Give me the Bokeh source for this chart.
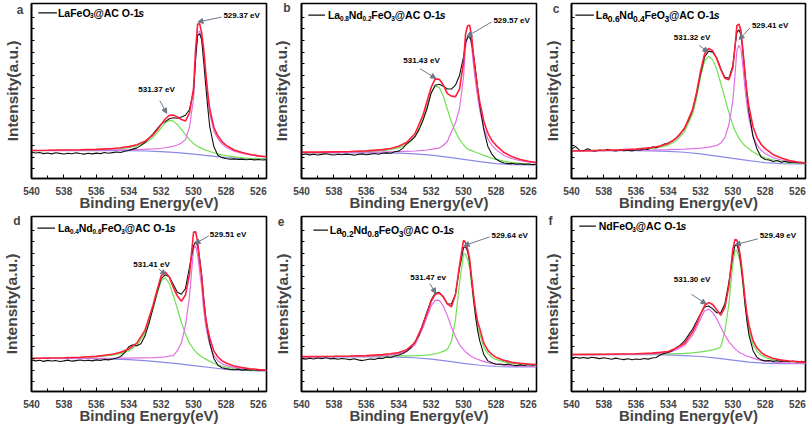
from bokeh.plotting import figure
from bokeh.models import Range1d, Label, Arrow, NormalHead, FixedTicker, SingleIntervalTicker
from bokeh.layouts import gridplot
from bokeh.embed import file_html
from bokeh.resources import INLINE

# ---------------- data (binding energy grids, eV) ----------------
X = [540, 539, 538, 537, 536, 535, 534.5, 534, 533.5, 533, 532.5, 532.25, 532, 531.75, 531.5,
     531.25, 531, 530.75, 530.5, 530.25, 530, 529.875, 529.75, 529.625, 529.5, 529.375, 529.25,
     529.125, 529, 528.75, 528.5, 528.25, 528, 527.5, 527, 526.5, 526, 525.5]
XR = [540, 539.75, 539.5, 539.25, 539, 538.75, 538.5, 538.25, 538, 537.75, 537.5, 537.25, 537,
      536.75, 536.5, 536.25, 536, 535.75, 535.5, 535.25, 535, 534.75, 534.5, 534.25, 534, 533.75,
      533.5, 533.25, 533, 532.75, 532.5, 532.25, 532, 531.75, 531.5, 531.25, 531, 530.75, 530.5,
      530.25, 530, 529.875, 529.75, 529.625, 529.5, 529.375, 529.25, 529.125, 529, 528.75, 528.5,
      528.25, 528, 527.75, 527.5, 527.25, 527, 526.75, 526.5, 526.25, 526, 525.75, 525.5]
XB = [540, 536, 535, 534, 533, 532, 531, 530, 529, 528, 527, 526, 525.5]

# ---- panel a: LaFeO3@AC
A_BASE = [28.7, 28.7, 28.7, 28.6, 28.3, 27.7, 26.7, 25.0, 23.3, 21.5, 20.5, 20.3, 20.3]
A_GREEN = [28.7, 28.8, 29.0, 29.2, 29.5, 30.2, 30.8, 31.8, 33.5, 36.5, 42.5, 47.0, 52.0, 57.0, 59.8,
           59.0, 55.5, 50.5, 45.0, 40.0, 36.0, 34.5, 33.0, 32.0, 31.0, 30.0, 29.2, 28.5, 27.8, 26.5,
           25.3, 24.3, 23.5, 22.2, 21.3, 20.8, 20.5, 20.3]
A_PINK = [28.8, 28.9, 29.0, 29.1, 29.2, 29.4, 29.5, 29.6, 29.8, 30.0, 30.4, 30.7, 31.1, 31.6, 32.3,
          33.2, 34.5, 36.5, 40.0, 53.0, 82.0, 123.0, 150.5, 151.5, 143.0, 127.0, 104.0, 83.0, 67.0,
          49.0, 41.0, 35.7, 32.3, 28.1, 25.9, 24.3, 23.1, 22.3]
A_RED = [28.8, 29.0, 29.3, 29.6, 30.0, 30.9, 31.6, 32.8, 34.8, 38.2, 44.9, 49.9, 55.4, 61.2, 64.9,
         65.2, 63.3, 60.7, 59.1, 67.6, 93.0, 132.7, 158.9, 159.1, 149.8, 133.1, 109.5, 88.0, 71.5,
         52.7, 43.9, 38.0, 34.3, 29.3, 26.7, 24.7, 23.3, 22.3]
A_RAW = [27, 26.3, 26.8, 25.6, 26.2, 25.3, 26.5, 25.8, 25.2, 26, 25.5, 26.4, 25.7, 25.1, 25.9, 25.3,
         26.1, 25.6, 26.8, 25.9, 26.6, 27.2, 26.7, 28, 28.8, 30.2, 31.5, 33.8, 37, 41.5, 46, 51, 56,
         58.5, 61.5, 62.5, 62, 63.2, 65, 71, 90, 123, 147, 149, 143, 120, 96, 73, 53, 33, 24, 21.5,
         20.5, 19.8, 20.2, 19.5, 19.9, 19.3, 19.8, 19.2, 19.6, 19.1, 19.4]

# ---- panel b: La0.8Nd0.2FeO3@AC
B_BASE = [26.3, 26.3, 26.3, 26.0, 25.3, 24.0, 22.0, 19.7, 17.3, 15.3, 14.3, 14.0, 14.0]
B_GREEN = [26.7, 26.7, 26.9, 27.2, 27.7, 28.7, 29.6, 31.5, 35.0, 43.0, 61.0, 74.7, 87.7, 95.3, 93.7,
           84.7, 71.3, 58.0, 48.0, 40.3, 34.7, 32.3, 30.3, 29.5, 28.7, 27.8, 27.0, 26.2, 25.5, 23.8,
           22.2, 20.8, 19.7, 17.8, 16.4, 15.5, 14.8, 14.4]
B_PINK = [26.7, 26.7, 26.8, 26.8, 27.0, 27.3, 27.5, 27.7, 28.0, 28.3, 29.0, 29.3, 30.0, 30.7, 31.3,
          34.0, 38.0, 48.0, 57.0, 72.0, 104.7, 136.0, 146.0, 147.0, 136.0, 114.7, 98.0, 83.0, 70.3,
          52.0, 40.7, 34.0, 29.7, 23.7, 20.3, 18.3, 17.0, 16.0]
B_RED = [27.1, 27.1, 27.4, 27.7, 28.4, 29.7, 30.9, 33.2, 37.3, 46.0, 65.3, 79.7, 93.7, 102.5, 102.0,
         96.2, 87.3, 84.7, 84.2, 92.0, 119.7, 149.0, 157.1, 157.7, 146.2, 124.2, 107.0, 91.5, 78.5,
         59.0, 46.6, 39.0, 34.1, 26.7, 22.4, 19.6, 17.8, 16.4]
B_RAW = [24.5, 25.2, 24.3, 24.9, 24.1, 24.8, 25.4, 24.6, 24.2, 25, 24.4, 25.1, 24.7, 24, 24.8, 25.3,
         24.5, 25.1, 25.7, 25, 25.9, 26.4, 26, 27.5, 28.2, 31, 36, 39, 43, 50, 60, 72, 88, 96, 97, 95,
         92, 92, 96, 106, 125, 140, 145, 146, 140, 126, 110, 92, 76, 50, 33, 25, 20, 17.5, 16, 15.3,
         15.6, 14.8, 15.2, 14.5, 14.9, 14.3, 14.6]

# ---- panel c: La0.6Nd0.4FeO3@AC
C_BASE = [28.7, 28.7, 28.5, 28.0, 27.0, 25.3, 23.0, 20.7, 18.3, 16.3, 15.3, 15.0, 15.0]
C_GREEN = [28.7, 28.7, 29.0, 29.3, 30.0, 31.0, 32.3, 34.3, 39.0, 48.0, 66.3, 83.0, 104.7, 121.3,
           125.7, 122.0, 112.3, 98.0, 83.0, 68.0, 54.7, 49.7, 45.3, 41.7, 38.7, 36.0, 33.7, 32.0,
           30.3, 27.3, 25.0, 23.0, 21.3, 19.0, 17.3, 16.3, 15.7, 15.3]
C_PINK = [28.3, 28.5, 28.7, 28.8, 29.0, 29.3, 29.5, 29.7, 30.0, 30.3, 30.7, 31.0, 31.3, 31.7, 32.3,
          33.0, 34.0, 36.5, 42.0, 55.0, 80.0, 105.0, 132.0, 137.0, 133.0, 114.7, 93.0, 74.7, 61.3,
          43.7, 34.3, 29.0, 25.7, 21.3, 19.0, 17.3, 16.3, 15.7]
C_RED = [28.3, 28.5, 29.0, 29.4, 30.3, 31.8, 33.5, 36.0, 41.5, 51.3, 70.8, 88.3, 110.7, 128.3, 133.8,
         131.4, 123.3, 112.1, 103.1, 101.7, 114.0, 134.3, 157.2, 158.9, 152.2, 131.5, 107.8, 88.1,
         73.3, 53.2, 42.0, 35.2, 30.7, 24.5, 21.0, 18.4, 17.0, 16.0]
C_RAW = [30, 33, 29, 28.5, 30.5, 28.7, 28.2, 29.3, 28.5, 30, 28.8, 28.4, 29.4, 28.6, 29.2, 28.3, 29.5,
         29, 30.5, 30, 32.5, 31.5, 33.5, 35.5, 36.5, 38.5, 42, 46, 52, 60, 70, 87, 108, 125, 131, 130,
         124, 113, 104, 103, 116, 135, 150, 153, 148, 130, 108, 86, 68, 43, 30, 22, 19.5, 19, 17.5,
         18.5, 16.8, 17.7, 16.5, 17, 16.2, 16.6, 15.8]

# ---- panel d: La0.4Nd0.6FeO3@AC
D_BASE = [34.0, 33.7, 33.3, 32.7, 31.7, 30.3, 28.7, 26.7, 24.7, 22.7, 21.7, 21.3, 21.3]
D_GREEN = [34.05, 34.25, 34.5, 35.0, 35.8, 37.4, 39.0, 42.0, 47.5, 60.0, 85.0, 100.0, 114.0, 117.0,
           111.0, 99.0, 85.0, 71.0, 59.0, 50.0, 43.5, 41.0, 39.0, 37.3, 35.8, 34.5, 33.3, 32.2, 31.0,
           29.0, 27.5, 26.2, 25.2, 23.6, 22.6, 22.0, 21.6, 21.4]
D_PINK = [34.0, 34.0, 34.0, 34.0, 34.0, 34.2, 34.3, 34.4, 34.5, 34.6, 34.8, 35.0, 35.3, 35.7, 36.3,
          37.0, 42.0, 50.0, 68.0, 98.0, 147.0, 150.0, 141.0, 123.0, 108.0, 84.5, 67.5, 57.0, 48.5,
          37.0, 31.7, 28.7, 26.8, 24.9, 23.7, 22.9, 22.2, 21.8]
D_RED = [34.0, 34.4, 34.7, 35.2, 36.1, 38.3, 40.3, 43.7, 49.8, 62.9, 88.8, 104.3, 119.0, 122.8, 117.8,
         106.9, 98.3, 92.8, 99.3, 120.8, 163.8, 164.5, 153.8, 134.3, 118.1, 93.5, 75.6, 64.2, 54.8,
         41.8, 35.5, 31.7, 29.3, 26.3, 24.6, 23.4, 22.5, 21.9]
D_RAW = [32.5, 31.5, 32.2, 31, 32, 31.3, 31.8, 30.8, 31.5, 32.3, 31.2, 31.8, 32.4, 31.6, 32.2, 31.5,
         32.5, 32, 33, 32.5, 33.5, 34.5, 36, 40, 46, 48, 47, 49, 57, 70, 86, 102, 116, 120, 118, 110,
         102, 100, 106, 128, 150, 154, 150, 137, 120, 96, 76, 62, 50, 34, 27, 24.5, 23.5, 22.8, 22.3,
         23, 22, 22.5, 21.8, 22.4, 21.6, 22.1, 21.5]

# ---- panel e: La0.2Nd0.8FeO3@AC
E_BASE = [35.7, 35.7, 35.5, 35.3, 34.7, 33.3, 31.3, 29.0, 27.0, 25.7, 25.3, 25.3, 25.3]
E_GREEN = [35.9, 36.0, 36.1, 36.2, 36.3, 36.4, 36.5, 36.6, 36.7, 36.9, 37.2, 37.5, 38.0, 38.8, 39.8,
           41.3, 43.5, 51.4, 73.6, 111.3, 141.7, 141.1, 135.8, 127.3, 108.3, 90.8, 76.5, 65.6, 59.4,
           45.4, 39.0, 35.3, 33.0, 30.5, 29.0, 28.3, 27.9, 27.3]
E_PINK = [35.7, 35.7, 35.8, 36.0, 36.3, 37.0, 37.7, 38.7, 41.3, 48.0, 65.7, 77.0, 88.0, 94.0, 93.7,
          88.0, 78.0, 66.3, 56.3, 48.0, 43.0, 40.7, 39.0, 37.3, 36.0, 35.0, 34.0, 33.0, 32.3, 31.0,
          29.7, 28.7, 28.0, 27.0, 26.3, 26.0, 25.7, 25.7]
E_RED = [35.9, 36.0, 36.2, 36.5, 36.9, 37.9, 38.8, 40.0, 43.0, 50.2, 68.9, 80.8, 92.7, 100.0, 101.2,
         97.5, 90.2, 87.0, 99.7, 129.7, 155.7, 153.0, 146.3, 136.3, 116.3, 98.0, 83.0, 71.3, 64.7,
         49.7, 42.3, 38.0, 35.3, 32.0, 30.0, 29.0, 28.3, 27.7]
E_RAW = [34, 33.3, 34.2, 33.5, 34.4, 33.8, 34.8, 33.6, 34.1, 33.2, 34, 33.4, 32.8, 33.7, 32.5, 31.8,
         32.6, 33.4, 33, 34.3, 34, 35.6, 35, 36.5, 37.5, 39, 41.5, 45, 51, 58, 70, 82, 94, 101, 102, 97,
         90, 90, 100, 127, 148, 149, 144, 133, 114, 94, 76, 62, 52, 38, 31.5, 29.5, 28, 28.3, 27.5,
         28.2, 27.3, 26.6, 27.4, 26.8, 27.5, 27, 27.6]

# ---- panel f: NdFeO3@AC
F_BASE = [38.0, 38.0, 37.8, 37.7, 37.0, 36.0, 34.3, 32.3, 30.3, 29.0, 28.7, 28.7, 28.7]
F_GREEN = [38.1, 38.2, 38.3, 38.4, 38.5, 38.6, 38.7, 38.8, 39.0, 39.3, 39.8, 40.2, 40.7, 41.3, 42.0,
           42.8, 43.8, 46.0, 61.6, 89.5, 132.3, 144.4, 145.2, 138.9, 126.7, 109.1, 89.8, 74.0, 62.6,
           48.0, 41.4, 37.6, 35.0, 32.5, 31.3, 30.7, 30.4, 29.7]
F_PINK = [38.0, 38.0, 38.0, 38.2, 38.3, 38.7, 39.3, 40.0, 43.0, 47.0, 58.0, 65.7, 74.7, 83.0, 84.7,
          81.3, 74.7, 66.3, 58.0, 51.3, 46.3, 44.0, 42.3, 40.7, 39.3, 38.3, 37.3, 36.3, 35.7, 34.3,
          33.0, 32.0, 31.3, 30.3, 29.7, 29.3, 29.0, 29.0]
F_RED = [38.1, 38.2, 38.3, 38.6, 38.8, 39.5, 40.2, 41.1, 44.7, 49.3, 61.3, 69.6, 79.4, 88.7, 91.5,
         89.4, 84.2, 78.5, 86.3, 108.0, 146.3, 156.3, 155.7, 148.0, 134.7, 116.3, 96.3, 79.7, 68.0,
         52.3, 44.7, 40.3, 37.3, 34.0, 32.3, 31.3, 30.7, 30.0]
F_RAW = [34.5, 35.2, 34.3, 35, 34.1, 35.3, 34.6, 33.8, 34.7, 34, 33.2, 34.3, 33.5, 32.8, 33.7, 32.6,
         33.4, 32.9, 34, 33.3, 34.5, 35, 37.5, 39, 40.5, 42, 45, 48, 52, 58, 64, 72, 80, 87, 88, 85, 81,
         81, 90, 112, 140, 150, 151, 144, 131, 112, 90, 72, 58, 42, 35, 32.5, 31.5, 31.8, 31, 31.6,
         30.8, 31.4, 30.6, 31.2, 30.4, 31, 30.2]

# ---- texts
LETTERS = ["a", "b", "c", "d", "e", "f"]
LEGENDS = [
    [("LaFeO", "n"), ("3", "s"), ("@AC O-1", "n"), ("s", "i")],
    [("La", "n"), ("0.8", "s"), ("Nd", "n"), ("0.2", "s"), ("FeO", "n"), ("3", "s"), ("@AC O-1", "n"), ("s", "i")],
    [("La", "n"), ("0.6", "S"), ("Nd", "n"), ("0.4", "S"), ("FeO", "n"), ("3", "S"), ("@AC O-1", "n"), ("s", "i")],
    [("La", "n"), ("0.4", "s"), ("Nd", "n"), ("0.6", "s"), ("FeO", "n"), ("3", "s"), ("@AC O-1", "n"), ("s", "i")],
    [("La", "n"), ("0.2", "S"), ("Nd", "n"), ("0.8", "S"), ("FeO", "n"), ("3", "S"), ("@AC O-1", "n"), ("s", "i")],
    [("NdFeO", "n"), ("3", "s"), ("@AC O-1", "n"), ("s", "i")],
]
PEAK_MAIN = ["529.37 eV", "529.57 eV", "529.41 eV", "529.51 eV", "529.64 eV", "529.49 eV"]
PEAK_SEC = ["531.37 eV", "531.43 eV", "531.32 eV", "531.41 eV", "531.47 ev", "531.30 eV"]
XTICK_LABELS = {540: "540", 538: "538", 536: "536", 534: "534", 532: "532", 530: "530", 528: "528", 526: "526"}

# ---------------- layout / style (not data) ----------------
FONT = "Liberation Sans"
RED, BLACK, GREEN, PINK, BLUE, GRAY = "#ff1f3d", "#111111", "#6fe04f", "#e070e4", "#8a8ae6", "#6b7886"
FW, FH = 240, 180
XPX = 14.5 / FW
YPX = 180.0 / FH
WID = {' ': 278, '@': 975, '-': 333, '.': 278, 'A': 722, 'C': 722, 'F': 611, 'L': 611, 'N': 722,
       'O': 778, 'a': 556, 'b': 611, 'c': 556, 'd': 611, 'e': 556, 'f': 333, 's': 556}
KIND = {"n": (10.5, 0.0, "bold"), "s": (6.5, 3.0, "bold"), "S": (8.5, 3.5, "bold"), "i": (10.5, 0.0, "bold italic")}

LAYOUT = [
    dict(leg=(539.58, 538.43, 170.3, 538.37), l1=(528.16, 168), a1=(528.28, 166, 529.73, 161),
         l2=(533.41, 92), a2=(532.08, 80, 531.66, 67)),
    dict(leg=(539.58, 538.55, 168, 538.37), l1=(528.16, 163), a1=(528.28, 161, 529.79, 146),
         l2=(533.72, 121), a2=(532.69, 113, 531.72, 103)),
    dict(leg=(539.76, 538.61, 168, 538.49), l1=(528.82, 157), a1=(528.94, 155, 529.61, 143),
         l2=(533.66, 145), a2=(532.08, 137, 531.54, 130)),
    dict(leg=(539.64, 538.55, 168, 538.37), l1=(529.0, 162), a1=(529.06, 160, 529.91, 152),
         l2=(533.72, 131), a2=(532.15, 126, 531.72, 120)),
    dict(leg=(539.27, 538.37, 166, 538.25), l1=(528.28, 160), a1=(528.4, 159, 529.97, 150),
         l2=(533.29, 117), a2=(532.08, 111, 531.72, 101)),
    dict(leg=(539.52, 538.49, 170, 538.31), l1=(528.34, 160), a1=(528.46, 157, 529.85, 151),
         l2=(533.66, 115), a2=(532.57, 100, 531.66, 90)),
]
LETTER_V = [173, 175, 174, 175, 175, 175]
LETTER_OFF = [11, 15, 15, 15, 20, 21]
LETTER_SIZE = 12
TITLE_OFF = 8
BORDERS = [(26, 4), (26, 4), (25, 3)]
ROWB = (3, 30)
YT = [10, 22, 34, 46, 58, 70, 82, 94, 106, 118, 130, 142, 154, 166]

SERIES = [
    (A_BASE, A_GREEN, A_PINK, A_RED, A_RAW),
    (B_BASE, B_GREEN, B_PINK, B_RED, B_RAW),
    (C_BASE, C_GREEN, C_PINK, C_RED, C_RAW),
    (D_BASE, D_GREEN, D_PINK, D_RED, D_RAW),
    (E_BASE, E_GREEN, E_PINK, E_RED, E_RAW),
    (F_BASE, F_GREEN, F_PINK, F_RED, F_RAW),
]


def text_w(s, size):
    return sum(WID.get(c, 556) for c in s) / 1000.0 * size


def label(p, x, y, text, size, style="bold", align="left", baseline="middle"):
    p.add_layout(Label(x=x, y=y, text=text, text_font=FONT, text_font_size=f"{size}px",
                       text_font_style=style, text_align=align, text_baseline=baseline,
                       text_color="black"))


def make_panel(i):
    col = i % 3
    left, right = BORDERS[col]
    top, bottom = ROWB
    p = figure(width=left + FW + right, height=top + FH + bottom,
               x_range=Range1d(540, 525.5), y_range=Range1d(0, 180),
               output_backend="svg", toolbar_location=None,
               min_border_left=left, min_border_right=right,
               min_border_top=top, min_border_bottom=bottom)
    p.xgrid.visible = False
    p.ygrid.visible = False
    p.outline_line_color = "black"
    p.outline_line_width = 1.6
    p.background_fill_color = "white"
    p.border_fill_color = "white"

    xa = p.xaxis[0]
    xa.ticker = SingleIntervalTicker(interval=2, num_minor_ticks=2)
    xa.major_label_overrides = {k: v for k, v in XTICK_LABELS.items()}
    xa.axis_label = "Binding Energy(eV)"
    xa.axis_label_text_font = FONT
    xa.axis_label_text_font_style = "bold"
    xa.axis_label_text_font_size = "15px"
    xa.axis_label_standoff = -4
    xa.major_label_text_font = FONT
    xa.major_label_text_font_style = "bold"
    xa.major_label_text_font_size = "10px"
    xa.major_label_standoff = 8
    xa.major_tick_in, xa.major_tick_out = 4, 0
    xa.minor_tick_in, xa.minor_tick_out = 3, 0
    xa.axis_line_width = 1.6

    # y axis: no value labels; its single (invisible) major tick carries the panel letter
    ya = p.yaxis[0]
    lv = LETTER_V[i]
    ya.ticker = FixedTicker(ticks=[lv], minor_ticks=YT)
    ya.major_label_overrides = {lv: LETTERS[i]}
    ya.major_label_text_font = FONT
    ya.major_label_text_font_style = "bold"
    ya.major_label_text_font_size = f"{LETTER_SIZE}px"
    lw = text_w(LETTERS[i], LETTER_SIZE)
    so = int(round(LETTER_OFF[i] - lw / 2))
    ya.major_label_standoff = so
    ya.axis_label = "Intensity(a.u.)"
    ya.axis_label_text_font = FONT
    ya.axis_label_text_font_style = "bold"
    ya.axis_label_text_font_size = "15.5px"
    ya.axis_label_standoff = int(round(TITLE_OFF - so - lw))
    ya.major_tick_in, ya.major_tick_out = 0, 0
    ya.minor_tick_in, ya.minor_tick_out = 3, 0
    ya.axis_line_width = 1.6

    base, green, pink, red, raw = SERIES[i]
    p.line(XB, base, line_color=BLUE, line_width=1.2)
    p.line(X, green, line_color=GREEN, line_width=1.2)
    p.line(X, pink, line_color=PINK, line_width=1.2)
    p.line(XR, raw, line_color=BLACK, line_width=1.1)
    p.line(X, red, line_color=RED, line_width=1.6)

    L = LAYOUT[i]
    x0, x1, ly, tx = L["leg"]
    p.line([x0, x1], [ly, ly], line_color=BLACK, line_width=1.2)
    x = tx
    for txt, kind in LEGENDS[i]:
        size, dy, style = KIND[kind]
        label(p, x, ly - dy * YPX, txt, size, style)
        x -= text_w(txt, size) * XPX

    label(p, L["l1"][0], L["l1"][1], PEAK_MAIN[i], 8)
    label(p, L["l2"][0], L["l2"][1], PEAK_SEC[i], 8)
    for key in ("a1", "a2"):
        xs, ys, xe, ye = L[key]
        p.add_layout(Arrow(x_start=xs, y_start=ys, x_end=xe, y_end=ye, line_color=GRAY, line_width=1,
                           end=NormalHead(size=5, fill_color=GRAY, line_color=GRAY)))
    return p


panels = [make_panel(i) for i in range(6)]
grid = gridplot([panels[:3], panels[3:]], toolbar_location=None)
open("out.html", "w").write(file_html(grid, INLINE))
